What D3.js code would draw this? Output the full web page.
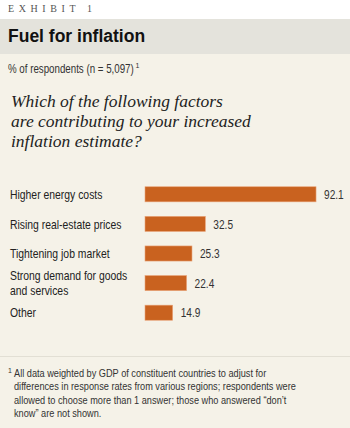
<!DOCTYPE html>
<html>
<head>
<meta charset="utf-8">
<script src="https://cdn.jsdelivr.net/npm/d3@7"></script>
<style>
  body { margin: 0; background: #fff; }
  .narrow { font-family: "Liberation Sans Narrow", "Liberation Sans", Arial, sans-serif; }
</style>
</head>
<body>
<div id="chart"></div>
<script>
var categories = ["Higher energy costs", "Rising real-estate prices", "Tightening job market",
                  "Strong demand for goods\nand services", "Other"];
var values = [92.1, 32.5, 25.3, 22.4, 14.9];
var questionLines = ["Which of the following factors", "are contributing to your increased", "inflation estimate?"];
var footnoteLines = [
  "All data weighted by GDP of constituent countries to adjust for",
  "differences in response rates from various regions; respondents were",
  "allowed to choose more than 1 answer; those who answered \u201cdon\u2019t",
  "know\u201d are not shown."
];

var width = 350, height = 428;

// squeeze text horizontally round its own x so it looks like a condensed face
function condense(sel, k) {
    sel.attr("transform", function() {
        var x0 = +d3.select(this).attr("x") || 0;
        return "translate(" + x0 + ",0) scale(" + k + ",1) translate(" + (-x0) + ",0)";
    });
}

var svg = d3.select("#chart")
    .append("svg")
    .attr("width", width)
    .attr("height", height);

// backgrounds
svg.append("rect").attr("x", 0).attr("y", 19).attr("width", width).attr("height", 35).attr("fill", "#e4e3dc");
svg.append("rect").attr("x", 0).attr("y", 54).attr("width", width).attr("height", height - 54).attr("fill", "#f5f2e8");
svg.append("line").attr("x1", 0).attr("x2", width).attr("y1", 356.5).attr("y2", 356.5)
    .attr("stroke", "#e2dfd4").attr("stroke-width", 1);

// header
svg.append("text")
    .attr("x", 8).attr("y", 12)
    .style("font-family", "'Liberation Serif', serif")
    .style("font-size", "10px")
    .style("letter-spacing", "4.6px")
    .attr("fill", "#555")
    .text("EXHIBIT 1");

svg.append("text")
    .attr("x", 8).attr("y", 42)
    .style("font-family", "'Liberation Sans', Arial, sans-serif")
    .style("font-weight", "900")
    .style("font-size", "17.5px")
    .attr("fill", "#111")
    .text("Fuel for inflation");

var subK = 0.78;
var sub = svg.append("text")
    .attr("class", "narrow")
    .attr("x", 8).attr("y", 73)
    .style("font-size", "12.5px")
    .attr("fill", "#333")
    .text("% of respondents (n = 5,097)");
var subLen = sub.node().getComputedTextLength();
condense(sub, subK);
svg.append("text")
    .attr("class", "narrow")
    .attr("x", 8 + subLen * subK + 1.5)
    .attr("y", 68)
    .style("font-size", "7px")
    .attr("fill", "#333")
    .text("1");

svg.append("g").selectAll("text")
    .data(questionLines)
    .enter()
    .append("text")
    .attr("x", 11)
    .attr("y", function(d, i) { return 107 + i * 20; })
    .style("font-family", "'Liberation Serif', 'DejaVu Serif', serif")
    .style("font-style", "italic")
    .style("font-size", "17.5px")
    .attr("fill", "#222")
    .text(function(d) { return d; });

// scales
var x = d3.scaleLinear().domain([0, 100]).range([145, 145 + 185.7]);
var y = d3.scaleBand().domain(categories).range([179.5, 327.5]).paddingInner(0.49).paddingOuter(0.245);

var rows = svg.append("g")
    .selectAll("g")
    .data(categories)
    .enter()
    .append("g");

rows.append("rect")
    .attr("x", x(0))
    .attr("y", function(d) { return y(d); })
    .attr("width", function(d, i) { return x(values[i]) - x(0); })
    .attr("height", y.bandwidth())
    .attr("fill", "#c9621f")
    .attr("stroke", "#e9a57a")
    .attr("stroke-width", 0.6);

var valueLabels = rows.append("text")
    .attr("class", "narrow")
    .attr("x", function(d, i) { return x(values[i]) + 8; })
    .attr("y", function(d) { return y(d) + y.bandwidth() / 2; })
    .attr("dy", "0.36em")
    .style("font-size", "13px")
    .attr("fill", "#333")
    .text(function(d, i) { return values[i].toFixed(1); });
condense(valueLabels, 0.78);

var catLabels = rows.append("text")
    .attr("class", "narrow")
    .attr("x", 10)
    .attr("y", function(d) {
        var n = d.split("\n").length;
        return y(d) + y.bandwidth() / 2 - (n - 1) * 7.5;
    })
    .style("font-size", "13px")
    .attr("fill", "#222")
    .each(function(d) {
        var t = d3.select(this);
        d.split("\n").forEach(function(line, i) {
            t.append("tspan").attr("x", 10).attr("dy", i === 0 ? "0.36em" : 15).text(line);
        });
    });
condense(catLabels, 0.8);

// footnote
var fn = svg.append("g").attr("class", "narrow").style("font-size", "11.5px").attr("fill", "#333");
fn.append("text").attr("x", 8).attr("y", 373).style("font-size", "7px").text("1");
var fnLines = fn.selectAll("text.line")
    .data(footnoteLines)
    .enter()
    .append("text")
    .attr("class", "line")
    .attr("x", 14)
    .attr("y", function(d, i) { return 377 + i * 13.5; })
    .text(function(d) { return d; });
condense(fnLines, 0.8);
</script>
</body>
</html>
